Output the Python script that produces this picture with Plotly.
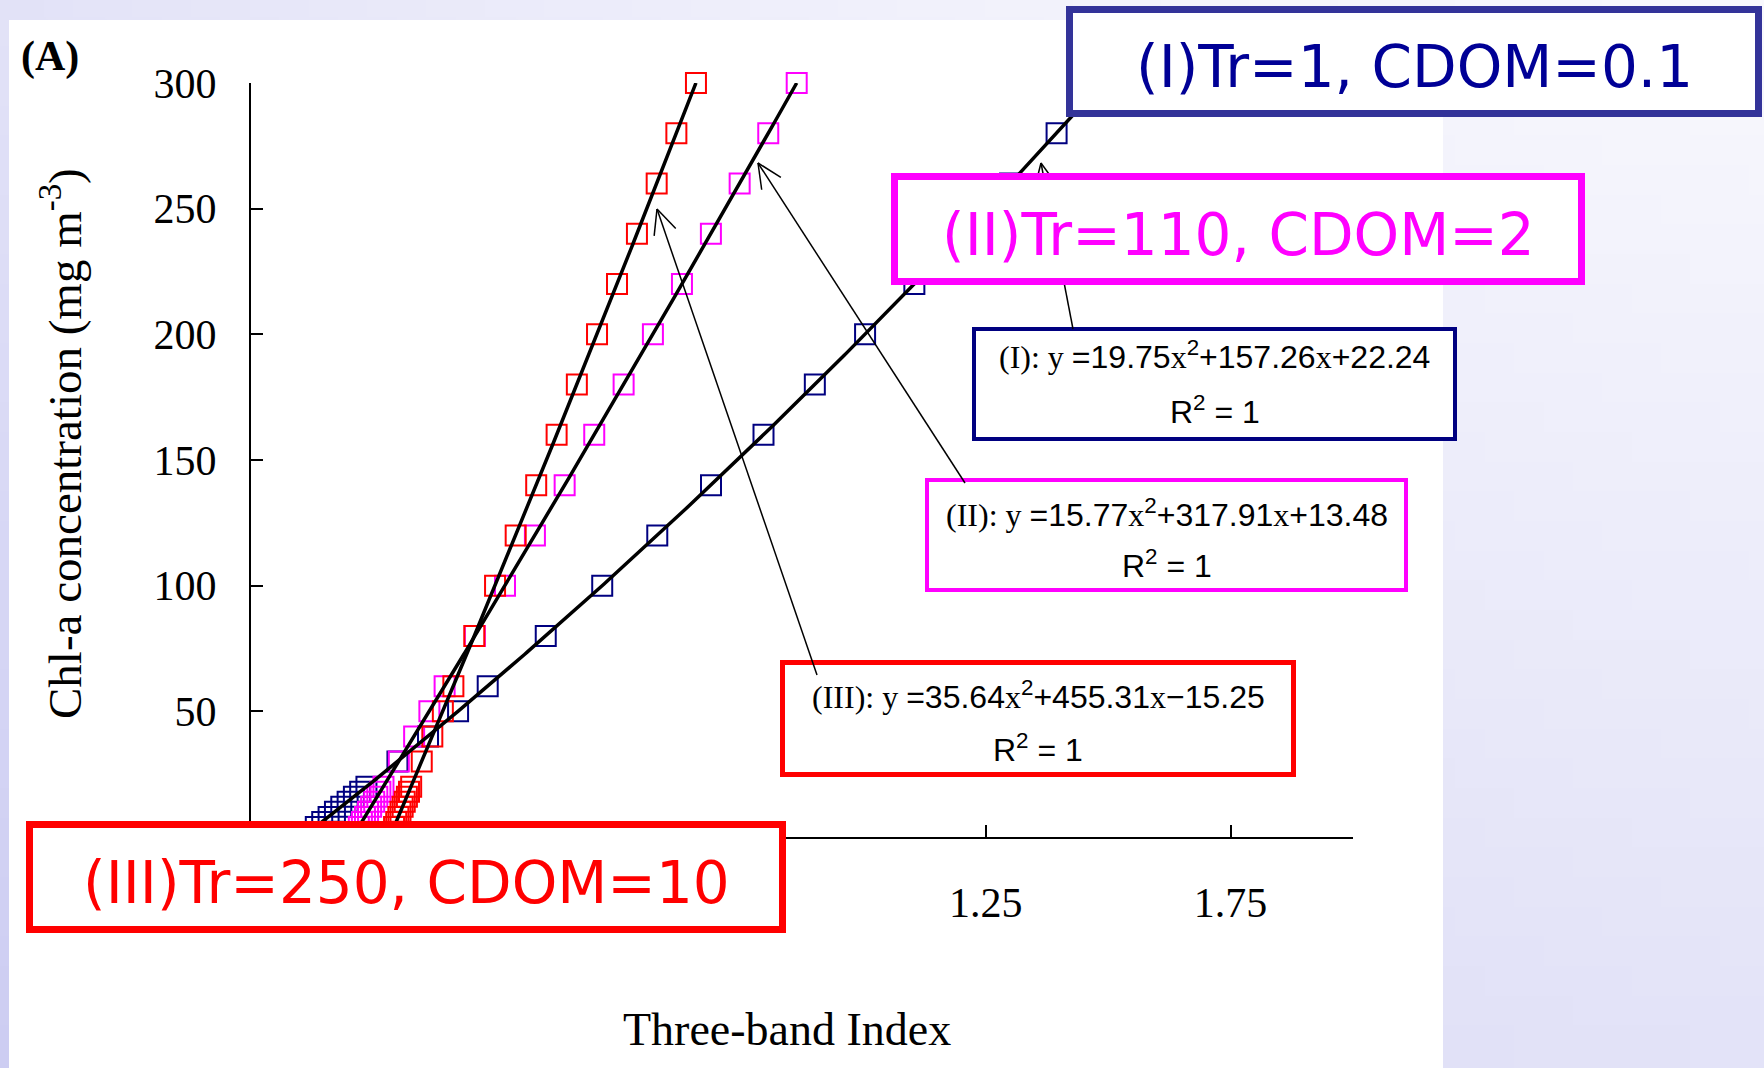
import base64
import math
import struct
import zlib

import numpy as np
import plotly.graph_objects as go

# ---------------------------------------------------------------- data
# Chl-a levels (mg m^-3) simulated for each water type
chl_levels = [1, 2, 4, 6, 8, 10, 12, 14, 16, 18, 20, 30, 40, 50, 60,
              80, 100, 120, 140, 160, 180, 200, 220, 240, 260, 280, 300]

# Three-band index obtained for each Chl-a level
tbi_case1 = [-0.1374, -0.1309, -0.1177, -0.1046, -0.0916, -0.0786, -0.0657,
             -0.0527, -0.0399, -0.0271, -0.0143, 0.0490, 0.1114, 0.1728,
             0.2333, 0.3518, 0.4671, 0.5795, 0.6892, 0.7964, 0.9012, 1.0038,
             1.1044, 1.2030, 1.2997, 1.3948, 1.4881]
tbi_case2 = [-0.0393, -0.0362, -0.0299, -0.0236, -0.0173, -0.0110, -0.0047,
             0.0016, 0.0079, 0.0142, 0.0205, 0.0518, 0.0831, 0.1142, 0.1453,
             0.2071, 0.2686, 0.3297, 0.3904, 0.4508, 0.5108, 0.5706, 0.6299,
             0.6890, 0.7477, 0.8061, 0.8642]
tbi_case3 = [0.0356, 0.0378, 0.0421, 0.0465, 0.0509, 0.0552, 0.0596, 0.0639,
             0.0683, 0.0726, 0.0770, 0.0986, 0.1202, 0.1417, 0.1632, 0.2059,
             0.2483, 0.2904, 0.3323, 0.3740, 0.4153, 0.4565, 0.4973, 0.5380,
             0.5783, 0.6185, 0.6585]

# quadratic fits y = a x^2 + b x + c
fit_case1 = [19.75, 157.26, 22.24]
fit_case2 = [15.77, 317.91, 13.48]
fit_case3 = [35.64, 455.31, -15.25]

case_ids = ["I", "II", "III"]
case_titles = ["(I)Tr=1, CDOM=0.1", "(II)Tr=110, CDOM=2", "(III)Tr=250, CDOM=10"]
r_squared = [1, 1, 1]

x_ticks = [-0.25, 0.25, 0.75, 1.25, 1.75]
x_tick_labels = ["", "", "", "1.25", "1.75"]   # left ones sit under the (III) box
y_ticks = [0, 50, 100, 150, 200, 250, 300]
y_tick_labels = ["", "50", "100", "150", "200", "250", "300"]

# ---------------------------------------------------------------- styling
NAVY, MAGENTA, RED = "#000080", "#FF00FF", "#FF0000"
marker_colors = [NAVY, MAGENTA, RED]
title_text_colors = ["#000096", MAGENTA, RED]
title_border_colors = ["#333399", MAGENTA, RED]
SERIF = "Liberation Serif"
SANS = "Liberation Sans"
BOX_FONT = "DejaVu Sans"

W, H = 1764, 1068
PL, PR, PT, PB = 251, 1353, 83, 837  # plot area in pixels


def pxx(X):
    return (X - PL) / (PR - PL)


def pyy(Y):
    return (PB - Y) / (PB - PT)


fig = go.Figure()

series = [(tbi_case1, fit_case1), (tbi_case2, fit_case2), (tbi_case3, fit_case3)]
for (xs, fit), col in zip(series, marker_colors):
    fig.add_trace(go.Scatter(
        x=xs, y=chl_levels, mode="markers", cliponaxis=False,
        marker=dict(symbol="square-open", size=20, color=col,
                    line=dict(width=2, color=col)),
        hoverinfo="skip"))

for xs, fit in series:
    xf = np.linspace(min(xs), max(xs), 300)
    a, b, c = fit
    fig.add_trace(go.Scatter(
        x=xf, y=a * xf ** 2 + b * xf + c, mode="lines", cliponaxis=False,
        line=dict(color="black", width=3.5), hoverinfo="skip"))


# ---------------------------------------------------------------- background
def bg_rgb(X, Y):
    d = 6 + 22 * (Y / H) + 22 * (1 - X / W) ** 1.5
    return (int(255 - d), int(255 - d), int(255 - 0.25 * d))


def gradient_png(nx, ny):
    rows = []
    for j in range(ny):
        row = bytearray(b"\x00")
        for i in range(nx):
            row.extend(bg_rgb((i + 0.5) * W / nx, (j + 0.5) * H / ny))
        rows.append(bytes(row))

    def chunk(tag, data):
        return (struct.pack(">I", len(data)) + tag + data
                + struct.pack(">I", zlib.crc32(tag + data) & 0xFFFFFFFF))

    png = (b"\x89PNG\r\n\x1a\n"
           + chunk(b"IHDR", struct.pack(">IIBBBBB", nx, ny, 8, 2, 0, 0, 0))
           + chunk(b"IDAT", zlib.compress(b"".join(rows)))
           + chunk(b"IEND", b""))
    return "data:image/png;base64," + base64.b64encode(png).decode()


fig.add_layout_image(dict(
    source=gradient_png(60, 36), xref="paper", yref="paper",
    x=pxx(0), y=pyy(0), sizex=pxx(W) - pxx(0), sizey=pyy(0) - pyy(H),
    xanchor="left", yanchor="top", sizing="stretch", layer="below"))

shapes = []
# white slide panel
shapes.append(dict(type="rect", xref="paper", yref="paper",
                   x0=pxx(9), x1=pxx(1443), y0=pyy(20), y1=pyy(H + 5),
                   fillcolor="white", line=dict(width=0), layer="below"))


def rect_shape(x0, y0, x1, y1, bw, color):
    h = bw / 2
    return dict(type="rect", xref="paper", yref="paper", layer="above",
                x0=pxx(x0 + h), x1=pxx(x1 - h), y0=pyy(y0 + h), y1=pyy(y1 - h),
                fillcolor="white", line=dict(color=color, width=bw))


def line_shape(A, B, width=1.5):
    return dict(type="line", xref="paper", yref="paper", layer="above",
                x0=pxx(A[0]), y0=pyy(A[1]), x1=pxx(B[0]), y1=pyy(B[1]),
                line=dict(color="black", width=width))


annotations = []


def label(X, Y, text, font, **kw):
    d = dict(xref="paper", yref="paper", x=pxx(X), y=pyy(Y), text=text,
             showarrow=False, font=font, xanchor="center", yanchor="middle")
    d.update(kw)
    return d


def fmt_coef(v, first=False):
    s = f"{abs(v):.2f}"
    if first:
        return s
    return ("+" if v >= 0 else "\u2212") + s


def equation(cid, fit):
    xs = f'<span style="font-family:{SERIF}">x</span>'
    head = f'<span style="font-family:{SERIF}">({cid}): y </span>'
    a, b, c = fit
    return (head + "=" + fmt_coef(a, True) + xs + "<sup>2</sup>"
            + fmt_coef(b) + xs + fmt_coef(c))


# equation boxes: outer box, first line y, second line y, border width
eq_boxes = [((972, 327, 1457, 441), 355, 410, 4),
            ((925, 478, 1408, 592), 513, 564, 4),
            ((780, 660, 1296, 777), 695, 748, 5)]
fits = [fit_case1, fit_case2, fit_case3]
eq_font = dict(family=SANS, size=32, color="black")
for (bx, l1, l2, bw), col, cid, fit, r2 in zip(eq_boxes, marker_colors,
                                               case_ids, fits, r_squared):
    shapes.append(rect_shape(*bx, bw, col))
    cx = (bx[0] + bx[2]) / 2
    annotations.append(label(cx, l1, equation(cid, fit), eq_font))
    annotations.append(label(cx, l2, f"R<sup>2</sup> = {r2}", eq_font))

# pointers from equation boxes to their curves
pointers = [((1041, 163), (1073, 329)),
            ((758, 163), (965, 483)),
            ((657, 209), (817, 675))]
ARM, HALF = 27, math.radians(25)
for tip, tail in pointers:
    shapes.append(line_shape(tip, tail))
    ux, uy = tail[0] - tip[0], tail[1] - tip[1]
    n = math.hypot(ux, uy)
    ux, uy = ux / n, uy / n
    for s in (1, -1):
        ca, sa = math.cos(s * HALF), math.sin(s * HALF)
        end = (tip[0] + ARM * (ux * ca - uy * sa), tip[1] + ARM * (ux * sa + uy * ca))
        shapes.append(line_shape(tip, end))

# scenario title boxes (drawn after the pointers so they sit on top of them)
title_boxes = [(1066, 6, 1762, 117), (891, 173, 1585, 285), (26, 821, 786, 933)]
for bx, t, tc, bc in zip(title_boxes, case_titles, title_text_colors, title_border_colors):
    shapes.append(rect_shape(*bx, 7, bc))
    annotations.append(label((bx[0] + bx[2]) / 2, (bx[1] + bx[3]) / 2 + 6, t,
                             dict(family=BOX_FONT, size=58, color=tc)))

# axis titles and panel tag
annotations.append(label(62, 444, "Chl-a concentration (mg m<sup>-3</sup>)",
                         dict(family=SERIF, size=47, color="black"), textangle=-90))
annotations.append(label(787, 1029, "Three-band Index",
                         dict(family=SERIF, size=46, color="black")))
annotations.append(label(50, 57, "<b>(A)</b>",
                         dict(family=SERIF, size=42, color="black")))

fig.update_layout(
    width=W, height=H,
    margin=dict(l=PL, r=W - PR, t=PT, b=H - PB, autoexpand=False),
    paper_bgcolor="#E6E6F8", plot_bgcolor="white", showlegend=False,
    annotations=annotations, shapes=shapes,
    xaxis=dict(range=[-0.25, 2.0], tickvals=x_ticks, ticktext=x_tick_labels,
               showline=True, linecolor="black", linewidth=2,
               ticks="inside", ticklen=12, tickwidth=2, tickcolor="black",
               tickfont=dict(family=SERIF, size=42, color="black"),
               ticklabelstandoff=28, showgrid=False, zeroline=False),
    yaxis=dict(range=[0, 300], tickvals=y_ticks, ticktext=y_tick_labels,
               showline=True, linecolor="black", linewidth=2,
               ticks="inside", ticklen=12, tickwidth=2, tickcolor="black",
               tickfont=dict(family=SERIF, size=42, color="black"),
               ticklabelstandoff=24, showgrid=False, zeroline=False),
)

fig.write_html("out.html")
